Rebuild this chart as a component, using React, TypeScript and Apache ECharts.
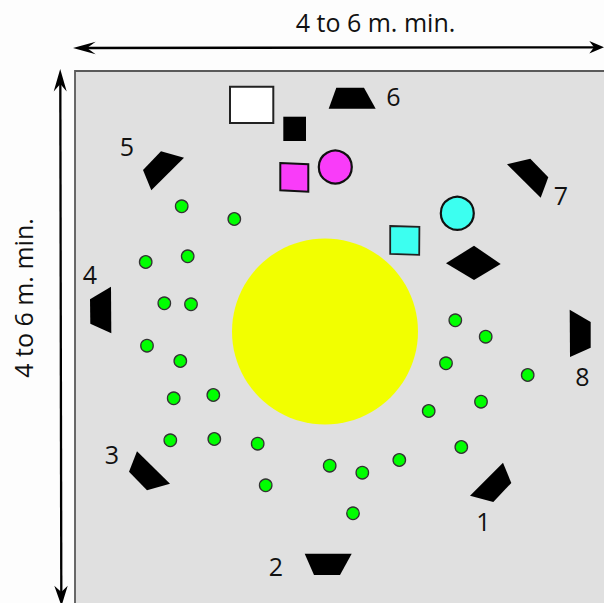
import React, { useEffect, useRef } from "react";
import * as echarts from "echarts";

const W = 604;
const H = 603;
const FONT = '"Open Sans", "Noto Sans", sans-serif';

type P = [number, number];

const panel: P[] = [[75, 71], [612, 71], [612, 612], [75, 612]];

const greenDots: P[] = [
  [181.7, 206.3], [234.3, 219], [145.7, 262], [187.7, 256.3],
  [164.3, 303.3], [191, 304.3], [147, 345.7], [180.3, 361],
  [173.7, 398.3], [213.3, 395], [170.3, 440.3], [214.3, 439],
  [257.7, 443.7], [265.7, 485.3],
  [455.3, 320.3], [485.7, 336.7], [446, 363.3], [527.7, 375],
  [481, 401.7], [428.7, 411], [461.3, 447], [399.3, 460],
  [329.7, 465.7], [362.3, 472.7], [353, 513.3],
];

const blackShapes: P[][] = [
  [[503, 462.7], [511.3, 483], [493.3, 502], [470, 495.7]],
  [[304.7, 553.7], [351.7, 553.7], [340, 575], [314, 575]],
  [[137, 451.3], [170, 483.7], [147, 490.3], [129, 471.7]],
  [[111, 286.7], [111.3, 333.3], [90.3, 323.7], [90, 299.3]],
  [[161, 151.3], [184, 157.7], [151.3, 190.3], [143, 170]],
  [[336.3, 87.7], [364, 87.7], [375.7, 108.7], [328.7, 108.7]],
  [[507, 164.3], [530.3, 158.7], [548.3, 177.3], [540.7, 197.7]],
  [[569.7, 309.7], [590.7, 322], [590.7, 347.7], [570, 357]],
  [[474, 245.7], [500.7, 264], [474, 280], [446, 263.3]],
  [[283.3, 116.7], [306, 116.7], [306, 141], [283.3, 141]],
];

const whiteSquare: P[] = [[230, 86.7], [273.3, 86.7], [273.3, 123], [230, 123]];
const magentaSquare: P[] = [[280.3, 163], [308.3, 164.3], [308.3, 191.7], [280.3, 190.3]];
const cyanSquare: P[] = [[390.2, 226], [419.4, 226.9], [419.2, 254.8], [390.2, 253.8]];

const arrowLines: [P, P][] = [
  [[80, 48], [598, 47.3]],
  [[60.3, 76], [61.3, 598]],
];
const arrowHeads: P[][] = [
  [[73, 48], [95.7, 41.7], [87, 48], [95.7, 54.3]],
  [[604, 47.3], [589.3, 41], [594, 47.3], [589.3, 53.5]],
  [[60.2, 69], [66.7, 91.5], [60.3, 84], [53.7, 91.5]],
  [[61.5, 606], [54.3, 585.7], [61.3, 592], [67.7, 585.7]],
];

const numberLabels: [number, number, string][] = [
  [483.5, 520.5, "1"], [276, 565.5, "2"], [112, 454, "3"], [90, 273.5, "4"],
  [127, 146, "5"], [393.5, 95.5, "6"], [561, 194.5, "7"], [582.5, 375.5, "8"],
];
const dimensionLabels: [number, number, string, number][] = [
  [375.5, 22, "4 to 6 m. min.", 0],
  [23, 298, "4 to 6 m. min.", 90],
];

const polygonSeries = (polys: P[][], fill: string, stroke: string, lineWidth: number, z: number) => ({
  type: "custom",
  coordinateSystem: "cartesian2d",
  clip: false,
  silent: true,
  z,
  data: polys.map((_, i) => [i]),
  renderItem: (params: any, api: any) => ({
    type: "polygon",
    shape: { points: polys[params.dataIndex].map((p) => api.coord(p)) },
    style: { fill, stroke, lineWidth, lineJoin: "miter" },
  }),
});

const circleSeries = (x: number, y: number, size: number, fill: string, stroke: string, bw: number, z: number) => ({
  type: "scatter",
  silent: true,
  clip: false,
  z,
  symbol: "circle",
  symbolSize: size,
  itemStyle: { color: fill, borderColor: stroke, borderWidth: bw, opacity: 1 },
  data: [[x, y]],
});

export default function App() {
  const ref = useRef<HTMLDivElement>(null);
  useEffect(() => {
    document.body.style.margin = "0";
    const chart = echarts.init(ref.current!, undefined, { renderer: "svg" });
    chart.setOption({
      animation: false,
      backgroundColor: "#fdfdfd",
      grid: { left: 0, right: 0, top: 0, bottom: 0 },
      xAxis: { type: "value", min: 0, max: W, show: false },
      yAxis: { type: "value", min: 0, max: H, inverse: true, show: false },
      tooltip: { show: false },
      series: [
        polygonSeries([panel], "#e0e0e0", "#5a5a5a", 1.8, 1),
        circleSeries(325, 331.5, 186, "#f2ff00", "#f2ff00", 0, 2),
        {
          type: "custom",
          coordinateSystem: "cartesian2d",
          clip: false,
          silent: true,
          z: 3,
          data: arrowLines.map((_, i) => [i]),
          renderItem: (params: any, api: any) => {
            const [a, b] = arrowLines[params.dataIndex];
            const p = api.coord(a);
            const q = api.coord(b);
            return {
              type: "line",
              shape: { x1: p[0], y1: p[1], x2: q[0], y2: q[1] },
              style: { stroke: "#000", lineWidth: 2.3 },
            };
          },
        },
        polygonSeries(arrowHeads, "#000", "none", 0, 3),
        polygonSeries(blackShapes, "#000", "none", 0, 3),
        polygonSeries([whiteSquare], "#fff", "#222", 2, 3),
        polygonSeries([magentaSquare], "#f93cf9", "#111", 2, 3),
        polygonSeries([cyanSquare], "#3cfff0", "#222", 1.8, 3),
        circleSeries(335.3, 167, 33, "#f93cf9", "#111", 2.2, 3),
        circleSeries(457.3, 213.3, 33, "#3cfff0", "#111", 2.2, 3),
        {
          type: "scatter",
          silent: true,
          clip: false,
          z: 4,
          symbol: "circle",
          symbolSize: 12.5,
          itemStyle: { color: "#00ff00", borderColor: "#333", borderWidth: 1.3, opacity: 1 },
          data: greenDots,
        },
        {
          type: "custom",
          coordinateSystem: "cartesian2d",
          clip: false,
          silent: true,
          z: 5,
          data: numberLabels.map((_, i) => [i]),
          renderItem: (params: any, api: any) => {
            const [x, y, t] = numberLabels[params.dataIndex];
            const p = api.coord([x, y]);
            return {
              type: "text",
              x: p[0],
              y: p[1],
              style: { text: t, fill: "#111", font: `25px ${FONT}`, align: "center", verticalAlign: "middle" },
            };
          },
        },
        {
          type: "custom",
          coordinateSystem: "cartesian2d",
          clip: false,
          silent: true,
          z: 5,
          data: dimensionLabels.map((_, i) => [i]),
          renderItem: (params: any, api: any) => {
            const [x, y, t, deg] = dimensionLabels[params.dataIndex];
            const p = api.coord([x, y]);
            return {
              type: "text",
              x: p[0],
              y: p[1],
              rotation: (deg * Math.PI) / 180,
              style: { text: t, fill: "#111", font: `25px ${FONT}`, align: "center", verticalAlign: "middle" },
            };
          },
        },
      ],
    });
    return () => chart.dispose();
  }, []);
  return <div ref={ref} style={{ width: W, height: H }} />;
}
